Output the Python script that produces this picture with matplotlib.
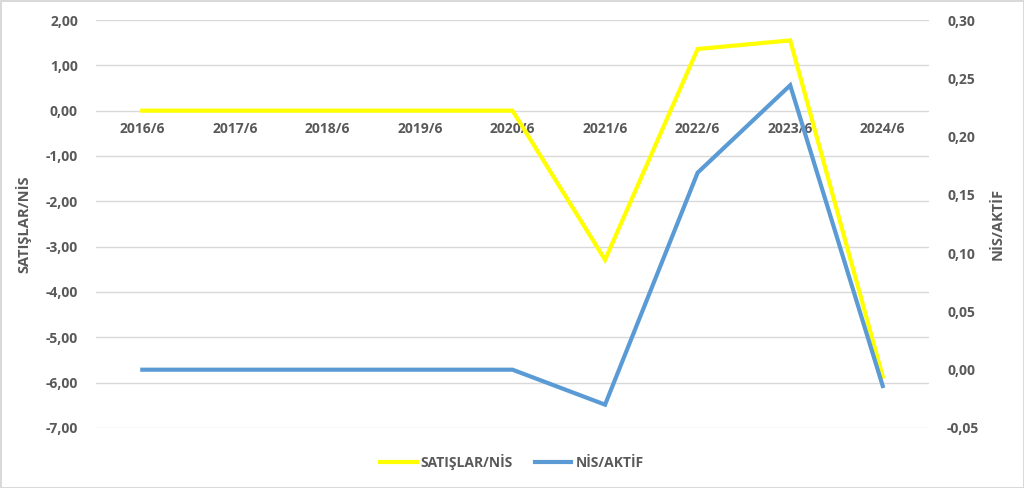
import matplotlib.pyplot as plt
from matplotlib.lines import Line2D

plt.rcParams['font.family'] = ['Open Sans', 'DejaVu Sans']

years = ['2016/6', '2017/6', '2018/6', '2019/6', '2020/6',
         '2021/6', '2022/6', '2023/6', '2024/6']
satislar_nis = [0.0, 0.0, 0.0, 0.0, 0.0, -3.29, 1.36, 1.55, -5.87]
nis_aktif = [0.0, 0.0, 0.0, 0.0, 0.0, -0.030, 0.169, 0.244, -0.014]

left_ticks = [2, 1, 0, -1, -2, -3, -4, -5, -6, -7]
right_ticks = [0.30, 0.25, 0.20, 0.15, 0.10, 0.05, 0.0, -0.05]

grey = '#595959'
yellow = '#FFFF00'
blue = '#5B9BD5'

fig = plt.figure(figsize=(10.24, 4.88), dpi=100)
fig.patch.set_edgecolor('#D9D9D9')
fig.patch.set_linewidth(2)
ax = fig.add_axes([0.09375, 0.123, 0.8135, 0.836])
ax2 = ax.twinx()

x = range(len(years))
ax.plot(x, satislar_nis, color=yellow, lw=3, solid_joinstyle='miter')
ax2.plot(x, nis_aktif, color=blue, lw=3, solid_joinstyle='miter')

ax.set_xlim(-0.5, len(years) - 0.5)
ax.set_ylim(-7, 2)
ax2.set_ylim(-0.05, 0.30)

ax.set_yticks(left_ticks)
ax.set_yticklabels([f'{v:.2f}'.replace('.', ',') for v in left_ticks])
ax2.set_yticks(right_ticks)
ax2.set_yticklabels([f'{v:.2f}'.replace('.', ',') for v in right_ticks])

ax.grid(axis='y', color='#D9D9D9', lw=1)
ax.set_axisbelow(True)
for a in (ax, ax2):
    for s in a.spines.values():
        s.set_visible(False)
ax.spines['bottom'].set_position(('data', 0))

ax.set_xticks(list(x))
ax.set_xticklabels(years)
ax.tick_params(axis='x', length=0, pad=8, labelsize=10, labelcolor=grey)
ax.tick_params(axis='y', length=0, pad=13, labelsize=10, labelcolor=grey)
ax2.tick_params(axis='y', length=0, pad=13, labelsize=10, labelcolor=grey)
for lbl in ax.get_xticklabels() + ax.get_yticklabels() + ax2.get_yticklabels():
    lbl.set_fontweight('bold')

ax.set_ylabel('SATIŞLAR/NİS', fontsize=10.5, fontweight='bold', color=grey, labelpad=10)
ax2.set_ylabel('NİS/AKTİF', fontsize=10.5, fontweight='bold', color=grey,
               rotation=90, labelpad=8)

handles = [Line2D([], [], color=yellow, lw=3),
           Line2D([], [], color=blue, lw=3)]
leg = fig.legend(handles, ['SATIŞLAR/NİS', 'NİS/AKTİF'], loc='center',
                 bbox_to_anchor=(0.5, 0.053), ncol=2, frameon=False,
                 handlelength=2.6, handletextpad=0.3, columnspacing=1.6,
                 prop={'size': 10, 'weight': 'bold'})
for t in leg.get_texts():
    t.set_color(grey)

fig.savefig('out.png', dpi=100, edgecolor=fig.get_edgecolor())
